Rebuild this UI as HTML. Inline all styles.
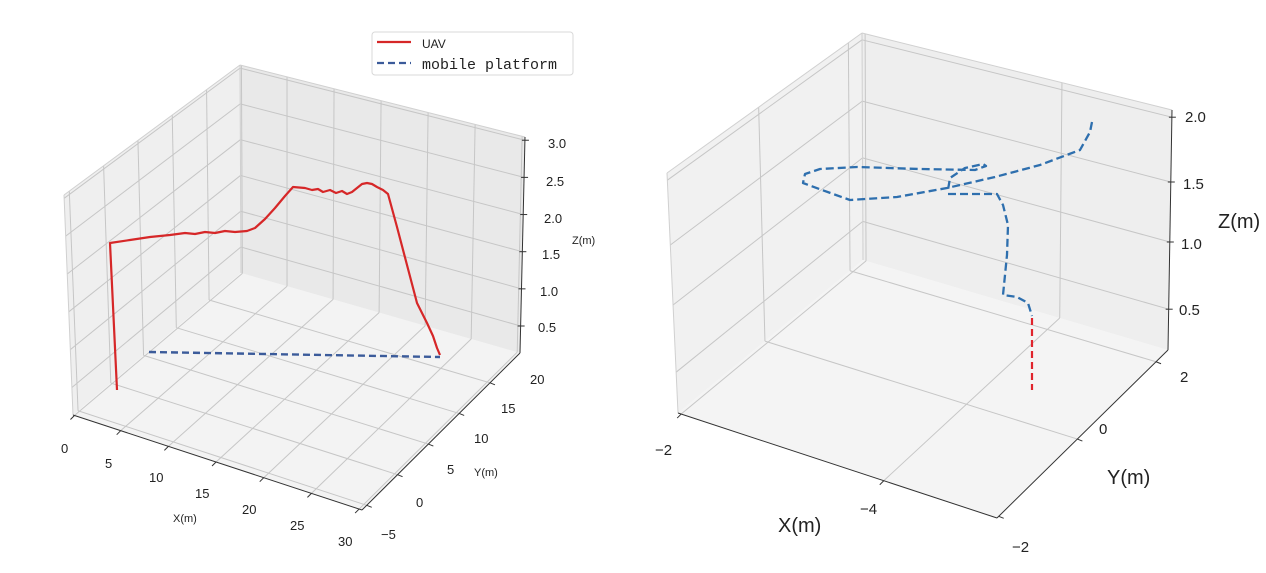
<!DOCTYPE html>
<html><head><meta charset="utf-8"><style>
html,body{margin:0;padding:0;background:#fff;width:1266px;height:573px;overflow:hidden}
svg{display:block}
text{font-family:"Liberation Sans","Noto Sans CJK SC",sans-serif;fill:#222}
</style></head><body>
<svg id="s" width="1266" height="573" viewBox="0 0 1266 573" xmlns="http://www.w3.org/2000/svg">
<g id="g"></g>
<g font-size="13">
<text x="548" y="148">3.0</text><text x="546" y="186">2.5</text><text x="544" y="223">2.0</text>
<text x="542" y="259">1.5</text><text x="540" y="296">1.0</text><text x="538" y="332">0.5</text>
<text x="572" y="244" font-size="11">Z(m)</text>
<text x="61" y="453">0</text><text x="105" y="468">5</text><text x="149" y="482">10</text>
<text x="195" y="498">15</text><text x="242" y="514">20</text><text x="290" y="530">25</text><text x="338" y="546">30</text>
<text x="173" y="522" font-size="11">X(m)</text>
<text x="530" y="384">20</text><text x="501" y="413">15</text><text x="474" y="443">10</text>
<text x="447" y="474">5</text><text x="416" y="507">0</text><text x="381" y="539">−5</text>
<text x="474" y="476" font-size="11">Y(m)</text>
</g>
<rect x="372" y="32" width="201" height="43" rx="3" fill="#fff" stroke="#d8d8d8"/>
<line x1="377" y1="42" x2="411" y2="42" stroke="#d62728" stroke-width="2.2"/>
<line x1="377" y1="63" x2="411" y2="63" stroke="#3b5b9a" stroke-width="2.2" stroke-dasharray="7,4"/>
<text x="422" y="48" font-size="12">UAV</text>
<text x="422" y="69" font-size="15" style="font-family:'Liberation Mono',monospace">mobile platform</text>
<g font-size="15">
<text x="1185" y="122">2.0</text><text x="1183" y="189">1.5</text><text x="1181" y="249">1.0</text><text x="1179" y="315">0.5</text>
<text x="1218" y="228" font-size="20">Z(m)</text>
<text x="655" y="455">−2</text><text x="860" y="514">−4</text>
<text x="778" y="532" font-size="20">X(m)</text>
<text x="1180" y="382">2</text><text x="1099" y="434">0</text><text x="1012" y="552">−2</text>
<text x="1107" y="484" font-size="20">Y(m)</text>
</g>
</svg>
<script>
var NS="http://www.w3.org/2000/svg",G=document.getElementById('g');
function el(t,a){var e=document.createElementNS(NS,t);for(var k in a)e.setAttribute(k,a[k]);G.appendChild(e);return e;}
function L(p,q,a){return [p[0]+(q[0]-p[0])*a,p[1]+(q[1]-p[1])*a];}
function line(p,q,c,w,d){var a={x1:p[0],y1:p[1],x2:q[0],y2:q[1],stroke:c||'#c6c6c6','stroke-width':w||1};if(d)a['stroke-dasharray']=d;el('line',a);}
function poly(pts,fill){el('polygon',{points:pts.map(function(p){return p.join(',')}).join(' '),fill:fill});}
function pl(pts,c,w,d){var a={points:pts.map(function(p){return p.join(',')}).join(' '),fill:'none',stroke:c,'stroke-width':w,'stroke-linejoin':'round','stroke-linecap':'butt'};if(d)a['stroke-dasharray']=d;el('polyline',a);}
function panel(P){
 var FL=P.FL,FR=P.FR,BR=P.BR,BL=P.BL,TFL=P.TFL,TBL=P.TBL,TBR=P.TBR;
 poly([FL,FR,BR,BL],P.c[0]);
 poly([FL,BL,TBL,TFL],P.c[1]);
 poly([BL,BR,TBR,TBL],P.c[2]);
 P.fx.forEach(function(f){line(L(FL,FR,f),L(BL,BR,f));line(L(BL,BR,f),L(TBL,TBR,f));});
 P.fy.forEach(function(f){line(L(FR,BR,f),L(FL,BL,f));line(L(FL,BL,f),L(TFL,TBL,f));});
 P.fz.forEach(function(f){line(L(FL,TFL,f),L(BL,TBL,f));line(L(BL,TBL,f),L(BR,TBR,f));});
 line(TFL,TBL,'#d0d0d0');line(TBL,TBR,'#d0d0d0');line(BL,TBL,'#d0d0d0');line(FL,TFL,'#d0d0d0');
 line(FL,FR,'#333',1);line(FR,BR,'#333',1);line(BR,TBR,'#333',1);
 P.fx.forEach(function(f){var p=L(FL,FR,f);line(p,[p[0]-4,p[1]+4],'#333',1);});
 P.fyt.forEach(function(f){var p=L(FR,BR,f);line(p,[p[0]+5,p[1]+2],'#333',1);});
 P.fz.forEach(function(f){var p=L(BR,TBR,f);line([p[0]-3,p[1]],[p[0]+4,p[1]],'#333',1);});
}
panel({FL:[73,415],FR:[362,510],BR:[520,353],BL:[241,273],TFL:[64,195],TBL:[240,65],TBR:[525,137],
 c:['#f3f3f3','#efefef','#e9e9e9'],
 fx:[0.005,0.165,0.33,0.495,0.66,0.825,0.99],fy:[0.03,0.225,0.42,0.615,0.81],fyt:[0.03,0.225,0.42,0.615,0.81],
 fz:[0.125,0.297,0.469,0.641,0.813,0.985]});
panel({FL:[678,413],FR:[997,518],BR:[1168,350],BL:[863,260],TFL:[667,173],TBL:[862,33],TBR:[1172,110],
 c:['#f4f4f4','#f1f1f1','#eeeeee'],
 fx:[0.01,0.645],fy:[0.47,0.93],fyt:[0.01,0.47,0.93],fz:[0.17,0.45,0.70,0.97]});
pl([[149,352],[440,357]],'#3b5b9a',2.4,'7,4');
var r=[[117,390],[110,243],[130,240],[150,237],[170,235],[185,233],[195,234],[205,232],[215,233],[225,231],[235,232],[247,231],[255,228],[265,219],[275,208],[285,196],[293,187],[305,188],[312,190],[318,189],[323,192],[330,190],[336,193],[342,191],[347,194],[352,192],[357,188],[362,184],[367,183],[372,184],[377,187],[383,190],[388,194],[397,227],[407,265],[417,303],[427,323],[433,336],[437,348],[440,355]];
pl(r,'#d62728',2.2);
pl([[1092,122],[1090,132],[1080,150],[1040,165],[995,177],[947,188],[897,197],[850,200],[822,190],[803,183],[805,174],[820,169],[857,167],[920,169],[975,170],[986,166],[983,164],[965,168],[950,178],[948,190]],'#2e6fae',2.3,'8,4');
pl([[948,194],[997,194],[1003,205],[1008,225],[1007,255],[1003,295],[1017,297],[1028,303],[1032,316]],'#2e6fae',2.3,'8,4');
pl([[1032,318],[1032,390]],'#e0242c',2.2,'7,4');
</script>
</body></html>
